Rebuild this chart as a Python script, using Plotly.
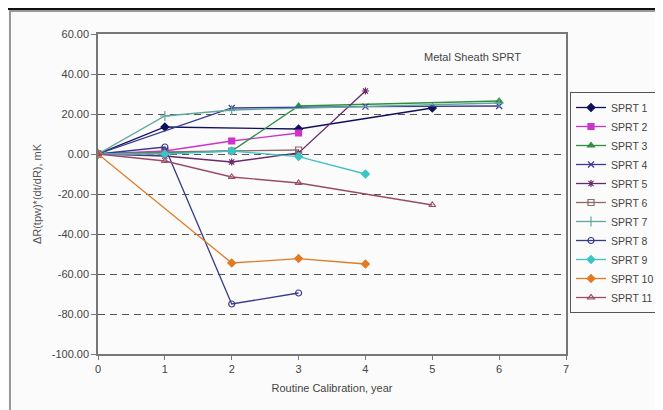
import plotly.graph_objects as go

# ---- data ----
names = ["SPRT 1", "SPRT 2", "SPRT 3", "SPRT 4", "SPRT 5", "SPRT 6",
         "SPRT 7", "SPRT 8", "SPRT 9", "SPRT 10", "SPRT 11"]

sprt1_x = [0, 1, 3, 5]
sprt1_y = [0, 13.5, 12.5, 23]
sprt2_x = [0, 1, 2, 3]
sprt2_y = [0, 1.5, 6.5, 10.5]
sprt3_x = [0, 1, 2, 3, 6]
sprt3_y = [0, 0.5, 1.5, 24, 26.5]
sprt4_x = [0, 2, 4, 6]
sprt4_y = [0, 23, 23.7, 24]
sprt5_x = [0, 1, 2, 3, 4]
sprt5_y = [0, -1, -4, 0.5, 31.5]
sprt6_x = [0, 1, 2, 3]
sprt6_y = [0, 1, 1.5, 2]
sprt7_x = [0, 1, 2, 6]
sprt7_y = [0, 19, 22, 25.5]
sprt8_x = [0, 1, 2, 3]
sprt8_y = [0, 3.5, -75, -69.5]
sprt9_x = [0, 1, 2, 3, 4]
sprt9_y = [0, 0, 1.5, -1.3, -10]
sprt10_x = [0, 2, 3, 4]
sprt10_y = [0, -54.5, -52.3, -55]
sprt11_x = [0, 1, 2, 3, 5]
sprt11_y = [0, -3.5, -11.5, -14.5, -25.5]

y_ticks = [-100, -80, -60, -40, -20, 0, 20, 40, 60]
y_tick_labels = ["-100.00", "-80.00", "-60.00", "-40.00", "-20.00",
                 "0.00", "20.00", "40.00", "60.00"]
x_ticks = [0, 1, 2, 3, 4, 5, 6, 7]

xs = [sprt1_x, sprt2_x, sprt3_x, sprt4_x, sprt5_x, sprt6_x,
      sprt7_x, sprt8_x, sprt9_x, sprt10_x, sprt11_x]
ys = [sprt1_y, sprt2_y, sprt3_y, sprt4_y, sprt5_y, sprt6_y,
      sprt7_y, sprt8_y, sprt9_y, sprt10_y, sprt11_y]

colors = ["#10105a", "#cc33cc", "#2f8f3f", "#3a3a99", "#6a2a6a", "#8a6a6a",
          "#5fa89a", "#3a3a8a", "#3cc4c4", "#e07a24", "#9a4a6a"]
symbols = ["diamond", "square", "triangle-up", "x-thin-open", "asterisk-open",
           "square-open", "cross-thin-open", "circle-open", "diamond",
           "diamond", "triangle-up-open"]
sizes = [6, 6, 6, 6, 6, 6, 7, 6, 6, 6, 6]

fig = go.Figure()
for n, x, y, c, s, sz in zip(names, xs, ys, colors, symbols, sizes):
    fig.add_trace(go.Scatter(
        x=x, y=y, name=n, mode="lines+markers",
        line=dict(color=c, width=1.3),
        marker=dict(color=c, symbol=s, size=sz, line=dict(color=c, width=1.2)),
    ))

font_fam = "Liberation Sans, Arial, sans-serif"

# the page body adds an 8px offset; figure is sized/positioned to compensate
W, H = 655, 402
L, T, PW, PH = 90, 26, 468, 320
PB = T + PH  # plot bottom in figure pixels


def px(fx):
    return (fx - L) / PW


def py(fy):
    return (PB - fy) / PH


fig.update_layout(
    width=W, height=H,
    margin=dict(l=L, r=W - L - PW, t=T, b=H - T - PH, autoexpand=False),
    paper_bgcolor="#fbfbfb",
    plot_bgcolor="#fbfbfb",
    font=dict(family=font_fam, size=11, color="#444"),
    showlegend=True,
    legend=dict(
        xref="paper", yref="paper",
        x=px(562), y=py(84), xanchor="left", yanchor="top",
        bordercolor="#555", borderwidth=1, bgcolor="#fbfbfb",
        font=dict(size=10.5, color="#444"),
        tracegroupgap=0, itemwidth=30,
    ),
    xaxis=dict(
        range=[0, 7], tickvals=x_ticks,
        showgrid=False, zeroline=False, automargin=False,
        showline=True, linecolor="#777", linewidth=1.5, mirror=True,
        ticks="outside", ticklen=4, tickcolor="#777",
        title=dict(text="Routine Calibration, year", font=dict(size=11, color="#444"), standoff=10),
    ),
    yaxis=dict(
        range=[-100, 60], tickvals=y_ticks, ticktext=y_tick_labels,
        showgrid=True, gridcolor="#555", gridwidth=1.3, griddash="7px,5px",
        zeroline=False, automargin=False,
        showline=True, linecolor="#777", linewidth=1.5, mirror=True,
        ticks="outside", ticklen=5, tickcolor="#777",
        title=dict(text="ΔR(tpw)*(dt/dR), mK", font=dict(size=11, color="#555"), standoff=8),
    ),
    annotations=[dict(
        text="Metal Sheath SPRT", xref="paper", yref="paper",
        x=px(464), y=py(49), xanchor="center", yanchor="middle",
        showarrow=False, font=dict(size=11, color="#444"),
    )],
    shapes=[
        dict(type="rect", xref="paper", yref="paper",
             x0=px(2), x1=px(W + 4), y0=py(H + 4), y1=py(3),
             line=dict(color="#999", width=2), layer="below"),
        dict(type="line", xref="paper", yref="paper",
             x0=px(-8), x1=px(W), y0=py(1), y1=py(1),
             line=dict(color="#111", width=2)),
    ],
)

fig.write_html("out.html")
